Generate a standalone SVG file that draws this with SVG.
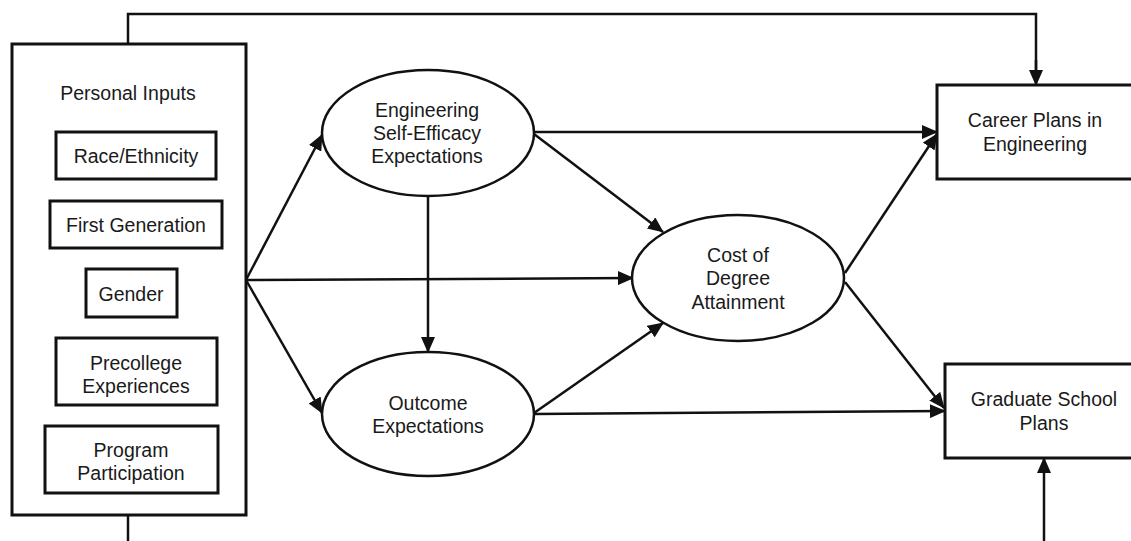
<svg xmlns="http://www.w3.org/2000/svg" width="1131" height="541" viewBox="0 0 1131 541">
<style>
.box{fill:#fff;stroke:#111;stroke-width:3}
.ell{fill:#fff;stroke:#111;stroke-width:2.5}
.t{font-family:"Liberation Sans",Arial,sans-serif;font-size:19.5px;fill:#1a1a1a;text-anchor:middle}
.c{fill:none;stroke:#111;stroke-width:2.5}
.ca{fill:none;stroke:#111;stroke-width:2.5;marker-end:url(#ah)}
</style>
<defs>
<marker id="ah" markerUnits="userSpaceOnUse" markerWidth="16" markerHeight="14" refX="15" refY="7" orient="auto" viewBox="0 0 16 14">
<path d="M0,0 L16,7 L0,14 Z" fill="#111"/>
</marker>
</defs>
<g id="connectors">
<path class="c" d="M128,44 V14 H1036 V70"/>
<path class="ca" d="M1036,60 V85"/>
<path class="c" d="M128,515 V541"/>
<path class="ca" d="M1044,541 V458"/>
<path class="ca" d="M246,280 L322,135"/>
<path class="ca" d="M246,280 L322,413"/>
<path class="ca" d="M246,280 L633,278"/>
<path class="ca" d="M428,196 V352"/>
<path class="ca" d="M534,132 L937,132"/>
<path class="ca" d="M534,134 L663,232"/>
<path class="ca" d="M534,413 L663,323"/>
<path class="ca" d="M534,414 L945,411"/>
<path class="ca" d="M845,273 L937,134"/>
<path class="ca" d="M845,282 L944,408"/>
</g>
<g id="personal-inputs">
<rect class="box" x="12" y="44" width="234" height="471"/>
<text class="t" x="128" y="100">Personal Inputs</text>
</g>
<g id="race">
<rect class="box" x="56" y="132" width="160" height="47"/>
<text class="t" x="136" y="163">Race/Ethnicity</text>
</g>
<g id="first-gen">
<rect class="box" x="50" y="201" width="172" height="47"/>
<text class="t" x="136" y="232">First Generation</text>
</g>
<g id="gender">
<rect class="box" x="86" y="269" width="91" height="48"/>
<text class="t" x="131" y="301">Gender</text>
</g>
<g id="precollege">
<rect class="box" x="56" y="338" width="161" height="67"/>
<text class="t" x="136" y="370">Precollege</text>
<text class="t" x="136" y="393">Experiences</text>
</g>
<g id="program">
<rect class="box" x="45" y="426" width="173" height="67"/>
<text class="t" x="131" y="457">Program</text>
<text class="t" x="131" y="480">Participation</text>
</g>
<g id="self-efficacy">
<ellipse class="ell" cx="428" cy="133" rx="106" ry="63"/>
<text class="t" x="427" y="117">Engineering</text>
<text class="t" x="427" y="140">Self-Efficacy</text>
<text class="t" x="427" y="163">Expectations</text>
</g>
<g id="outcome">
<ellipse class="ell" cx="428" cy="414" rx="106" ry="62"/>
<text class="t" x="428" y="410">Outcome</text>
<text class="t" x="428" y="433">Expectations</text>
</g>
<g id="cost">
<ellipse class="ell" cx="738" cy="278" rx="106" ry="63"/>
<text class="t" x="738" y="262">Cost of</text>
<text class="t" x="738" y="285">Degree</text>
<text class="t" x="738" y="309">Attainment</text>
</g>
<g id="career">
<rect class="box" x="937" y="85" width="210" height="94"/>
<text class="t" x="1035" y="127">Career Plans in</text>
<text class="t" x="1035" y="151">Engineering</text>
</g>
<g id="grad">
<rect class="box" x="945" y="364" width="210" height="94"/>
<text class="t" x="1044" y="406">Graduate School</text>
<text class="t" x="1044" y="430">Plans</text>
</g>
</svg>
